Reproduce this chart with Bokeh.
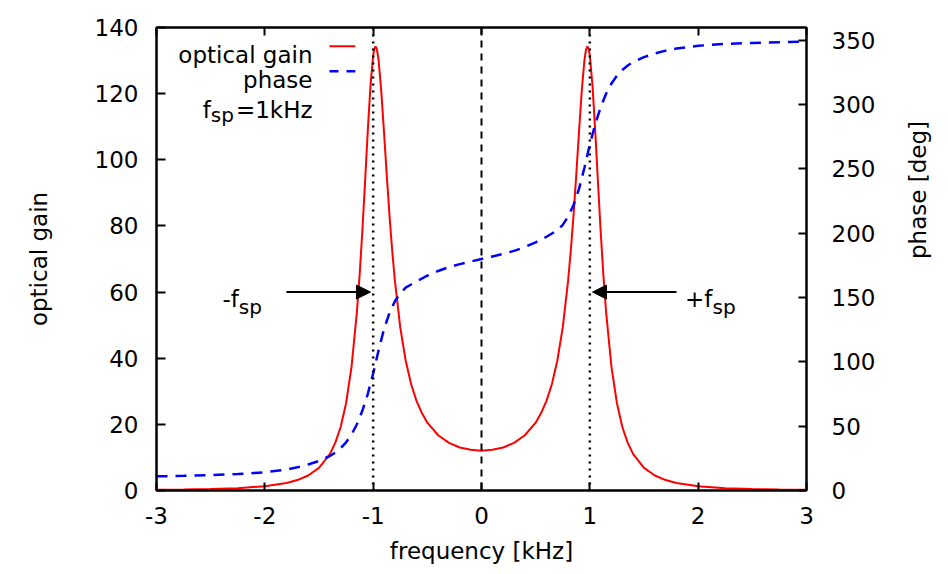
import math
from bokeh.plotting import figure
from bokeh.models import (Range1d, LinearAxis, FixedTicker, Span, Arrow, NormalHead,
                          Label, CustomJSTickFormatter)
from bokeh.embed import file_html
from bokeh.resources import INLINE

# ---------------- data ----------------
freq_gain = [-3.0, -2.75, -2.5, -2.25, -2.0, -1.8, -1.7, -1.6, -1.5, -1.4, -1.35, -1.3,
             -1.25, -1.2, -1.15, -1.125, -1.1, -1.075, -1.05, -1.025, -1.0, -0.99, -0.978,
             -0.965, -0.95, -0.925, -0.9, -0.875, -0.85, -0.825, -0.8, -0.75, -0.7, -0.65,
             -0.6, -0.55, -0.5, -0.4, -0.3, -0.2, -0.1, 0.0, 0.1, 0.2, 0.3, 0.4, 0.5, 0.55,
             0.6, 0.65, 0.7, 0.75, 0.8, 0.825, 0.85, 0.875, 0.9, 0.925, 0.95, 0.965, 0.978,
             0.99, 1.0, 1.025, 1.05, 1.075, 1.1, 1.125, 1.15, 1.2, 1.25, 1.3, 1.35, 1.4,
             1.5, 1.6, 1.7, 1.8, 2.0, 2.25, 2.5, 2.75, 3.0]
gain = [0.19, 0.28, 0.43, 0.71, 1.29, 2.28, 3.16, 4.54, 6.86, 11.0, 14.4, 19.2,
        26.4, 37.3, 54.0, 65.2, 78.4, 93.2, 108.6, 122.3, 131.5, 133.5, 134.3,
        133.4, 130.1, 120.7, 108.4, 95.6, 83.5, 72.8, 63.6, 49.3, 39.3, 32.2,
        27.1, 23.4, 20.5, 16.7, 14.4, 13.0, 12.3, 12.0, 12.3, 13.0, 14.4, 16.7, 20.5, 23.4,
        27.1, 32.2, 39.3, 49.3, 63.6, 72.8, 83.5, 95.6, 108.4, 120.7, 130.1, 133.4, 134.3,
        133.5, 131.5, 122.3, 108.6, 93.2, 78.4, 65.2, 54.0, 37.3, 26.4, 19.2, 14.4, 11.0,
        6.86, 4.54, 3.16, 2.28, 1.29, 0.71, 0.43, 0.28, 0.19]

freq_phase = [-3.0, -2.75, -2.5, -2.25, -2.0, -1.8, -1.7, -1.6, -1.5, -1.4, -1.35, -1.3,
              -1.25, -1.2, -1.15, -1.1, -1.05, -1.0, -0.95, -0.9, -0.85, -0.8, -0.75, -0.7,
              -0.65, -0.6, -0.5, -0.4, -0.3, -0.2, -0.1, 0.0,
              0.1, 0.2, 0.3, 0.4, 0.5, 0.6, 0.65, 0.7, 0.75, 0.8, 0.85, 0.9, 0.95, 1.0,
              1.05, 1.1, 1.15, 1.2, 1.25, 1.3, 1.35, 1.4, 1.5, 1.6, 1.7, 1.8, 2.0, 2.25,
              2.5, 2.75, 3.0]
phase = [11, 11.4, 12, 12.8, 14.2, 16.3, 18, 20.2, 23, 26.8, 29.5, 33,
         37.5, 43.5, 51.5, 62, 75, 91, 109, 125.5, 138, 147, 153.5, 157.7,
         160.2, 162.7, 167, 170.7, 173.7, 176, 178, 180,
         182, 184, 186.3, 189.3, 193, 197.3, 199.8, 202.3, 206.5, 213, 222, 234.5, 251, 269,
         285, 298, 308.5, 316.5, 322.5, 327, 330.5, 333.2, 337, 339.8, 342, 343.7, 345.8, 347.2,
         348, 348.6, 349]

x_ticks = [-3, -2, -1, 0, 1, 2, 3]
gain_ticks = [0, 20, 40, 60, 80, 100, 120, 140]
phase_ticks = [0, 50, 100, 150, 200, 250, 300, 350]
f_sp = 1.0
center_freq = 0.0
series_names = ["optical gain", "phase"]

# ---------------- styling / layout constants ----------------
FONT = "DejaVu Sans"
FS = "23px"
SUB_FS = "20px"
RED = "#ff0000"
BLUE = "#0000ff"

p = figure(frame_width=650, frame_height=463,
           x_range=Range1d(-3, 3), y_range=Range1d(0, 140),
           output_backend="svg", toolbar_location=None,
           min_border_left=156, min_border_right=140, min_border_top=27,
           min_border_bottom=82)
p.extra_y_ranges = {"phase": Range1d(0, 360)}
p.xgrid.visible = False
p.ygrid.visible = False
p.outline_line_color = "black"
p.outline_line_width = 2
p.background_fill_color = "white"
p.border_fill_color = "white"


def style(ax):
    ax.axis_line_color = "black"
    ax.axis_line_width = 2
    ax.major_tick_in = 8
    ax.major_tick_out = 0
    ax.major_tick_line_width = 2
    ax.major_tick_line_color = "black"
    ax.minor_tick_line_color = None
    ax.major_label_text_font = FONT
    ax.major_label_text_font_size = FS
    ax.major_label_text_color = "black"
    ax.axis_label_text_font = FONT
    ax.axis_label_text_font_size = FS
    ax.axis_label_text_font_style = "normal"
    ax.axis_label_text_color = "black"


yl = p.yaxis[0]
style(yl)
yl.ticker = FixedTicker(ticks=gain_ticks)
yl.axis_label = "optical gain"
yl.major_label_standoff = 18
yl.axis_label_standoff = 40
yl.major_tick_in = 9

xb = p.xaxis[0]
style(xb)
xb.ticker = FixedTicker(ticks=x_ticks)
xb.formatter = CustomJSTickFormatter(code="return tick.toFixed(0)")
xb.axis_label = "frequency [kHz]"
xb.major_label_standoff = 16
xb.axis_label_standoff = 11

yr = LinearAxis(y_range_name="phase", ticker=FixedTicker(ticks=phase_ticks))
style(yr)
yr.major_label_standoff = 25
yr.axis_label = "phase [deg]"
yr.axis_label_standoff = 40
try:
    yr.axis_label_orientation = math.pi / 2
except Exception:
    pass
p.add_layout(yr, "right")

xt = LinearAxis(ticker=FixedTicker(ticks=x_ticks),
                formatter=CustomJSTickFormatter(code="return ''"))
style(xt)
xt.major_label_text_font_size = "0px"
xt.major_label_standoff = 0
p.add_layout(xt, "above")

# ---------------- data marks ----------------
p.line(freq_gain, gain, line_color=RED, line_width=2)
p.line(freq_phase, phase, line_color=BLUE, line_width=2.5, line_dash="11 8",
       y_range_name="phase")

# vertical markers
p.add_layout(Span(location=center_freq, dimension="height", line_color="black",
                  line_width=2, line_dash="7 6"))
for loc in (-f_sp, f_sp):
    p.add_layout(Span(location=loc, dimension="height", line_color="black",
                      line_width=2.5, line_dash="2 5"))

# arrows and their labels
ARROW_Y = 60
ARROW_FAR = 1.80
ARROW_TIP = 1.025
for sgn in (-1, 1):
    p.add_layout(Arrow(end=NormalHead(size=14, fill_color="black", line_color="black"),
                       x_start=sgn * ARROW_FAR, y_start=ARROW_Y,
                       x_end=sgn * ARROW_TIP, y_end=ARROW_Y,
                       line_color="black", line_width=2))


def lab(x, y, text, align="left", size=FS, angle=0.0, baseline="alphabetic"):
    p.add_layout(Label(x=x, y=y, text=text, text_align=align, text_baseline=baseline,
                       text_font=FONT, text_font_size=size, text_color="black",
                       angle=angle))


TXT_BASE = 58.0
SUB_BASE = 55.6
lab(-2.24, TXT_BASE, "-f", "right")
lab(-2.24, SUB_BASE, "sp", "left", SUB_FS)
lab(2.132, TXT_BASE, "+f", "right")
lab(2.132, SUB_BASE, "sp", "left", SUB_FS)

# legend (gnuplot style: text right-aligned, sample to its right)
LEG_X = -1.56
LEG_S0, LEG_S1 = -1.403, -1.165
lab(LEG_X, 131.6, series_names[0], "right")
lab(LEG_X, 124.0, series_names[1], "right")
p.segment(x0=[LEG_S0], x1=[LEG_S1], y0=[134.3], y1=[134.3], line_color=RED, line_width=2)
p.segment(x0=[LEG_S0], x1=[LEG_S1], y0=[126.8], y1=[126.8], line_color=BLUE,
          line_width=2.5, line_dash="9 8")
lab(LEG_X, 115.1, "=1kHz", "right")
lab(-2.285, 113.4, "sp", "right", SUB_FS)
lab(-2.498, 115.1, "f", "right")

open("out.html", "w").write(file_html(p, INLINE))
